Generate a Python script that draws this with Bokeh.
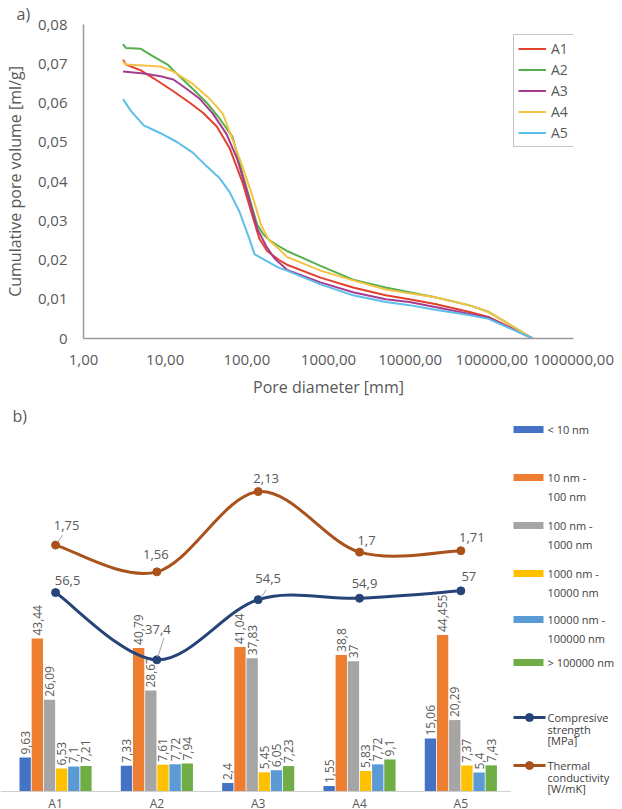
import math
from bokeh.plotting import figure
from bokeh.layouts import column, row
from bokeh.models import (Range1d, FixedTicker, Legend, LegendItem, Label, Title,
                          ColumnDataSource, CustomJSTickFormatter, Span)
from bokeh.transform import dodge
from bokeh.core.properties import value
from bokeh.embed import file_html
from bokeh.resources import INLINE

FONT = "Open Sans"
TXT = "#595959"

# ---------------- a) cumulative pore volume [ml/g] vs pore diameter ----------------
a1_d = [3.05, 3.31, 5.03, 7.22, 12.6, 20.2, 29, 42.9, 61.6, 88.5, 117, 142, 177, 248, 310,
        798, 2000, 5010, 9770, 20200, 52000, 90800, 318000]
a1_v = [0.071, 0.0698, 0.0683, 0.0663, 0.063, 0.060, 0.0575, 0.054, 0.0485, 0.0398, 0.0313,
        0.0255, 0.0223, 0.020, 0.0188, 0.0155, 0.013, 0.011, 0.010, 0.0088, 0.0068, 0.0055, 0.0]

a2_d = [3.05, 3.31, 5.03, 7.22, 10.7, 14.1, 22, 32.5, 46.6, 67, 88.5, 107, 134, 160, 190, 248,
        310, 798, 2000, 5010, 9770, 20200, 52000, 90800, 318000]
a2_v = [0.075, 0.074, 0.0738, 0.0718, 0.0698, 0.0673, 0.0635, 0.060, 0.056, 0.0513, 0.042,
        0.036, 0.029, 0.0265, 0.025, 0.0235, 0.0223, 0.0185, 0.015, 0.013, 0.0118, 0.0105,
        0.0085, 0.0068, 0.0]

a3_d = [3.05, 5.47, 8.77, 12.6, 18.6, 26.7, 38.4, 56.7, 77, 107, 134, 173, 216, 310, 798,
        2000, 5010, 9770, 20200, 52000, 90800, 318000]
a3_v = [0.068, 0.0675, 0.0668, 0.066, 0.0635, 0.061, 0.0573, 0.052, 0.0455, 0.0355, 0.028,
        0.0235, 0.0205, 0.0175, 0.0143, 0.0118, 0.010, 0.0093, 0.008, 0.0063, 0.0053, 0.0]

a4_d = [3.05, 3.31, 8.77, 12.6, 22, 35.3, 50.7, 66, 88.5, 117, 150, 188, 248, 310, 798, 2000,
        5010, 9770, 20200, 52000, 90800, 318000]
a4_v = [0.0705, 0.0698, 0.0693, 0.068, 0.0648, 0.061, 0.0573, 0.051, 0.0438, 0.0363, 0.0288,
        0.025, 0.0228, 0.0208, 0.0173, 0.0148, 0.0125, 0.0115, 0.0105, 0.0085, 0.0068, 0.0]

a5_d = [3.05, 3.8, 5.47, 8.77, 14.1, 22, 32.5, 46.6, 61.6, 81.3, 107, 124, 173, 248, 310, 798,
        2000, 5010, 9770, 20200, 52000, 90800, 318000]
a5_v = [0.061, 0.058, 0.0543, 0.0523, 0.050, 0.0473, 0.0438, 0.0408, 0.0373, 0.0323, 0.0255,
        0.0215, 0.0198, 0.018, 0.0173, 0.0138, 0.011, 0.0093, 0.0085, 0.0073, 0.006, 0.005, 0.0]

curve_names = ["A1", "A2", "A3", "A4", "A5"]
curve_colors = ["#e2412d", "#55b04b", "#a63c90", "#f4c244", "#5cbfe9"]
x_ticks = [1, 10, 100, 1000, 10000, 100000, 1000000]
y_ticks = [0, 0.01, 0.02, 0.03, 0.04, 0.05, 0.06, 0.07, 0.08]

# ---------------- b) pore size distribution, strength, conductivity ----------------
samples = ["A1", "A2", "A3", "A4", "A5"]
lt10 = [9.63, 7.33, 2.4, 1.55, 15.06]
r10_100 = [43.44, 40.79, 41.04, 38.8, 44.455]
r100_1000 = [26.09, 28.67, 37.83, 37, 20.29]
r1000_10000 = [6.53, 7.61, 5.45, 5.83, 7.37]
r10000_100000 = [7.1, 7.72, 6.05, 7.72, 5.4]
gt100000 = [7.21, 7.94, 7.23, 9.1, 7.43]
compressive = [56.5, 37.4, 54.5, 54.9, 57]
thermal = [1.75, 1.56, 2.13, 1.7, 1.71]

bar_names = ["< 10 nm", "10 nm -\n100 nm", "100 nm -\n1000 nm", "1000 nm -\n10000 nm",
             "10000 nm -\n100000 nm", "> 100000 nm"]
line_names = ["Compresive\nstrength\n[MPa]", "Thermal\nconductivity\n[W/mK]"]
bar_colors = ["#4472c4", "#ed7d31", "#a5a5a5", "#ffc000", "#5b9bd5", "#70ad47"]
NAVY = "#264478"
BROWN = "#a9521c"


def fmt(v):
    return f"{v:g}".replace(".", ",")


# ================= top figure =================
top = figure(width=622, height=400, x_axis_type="log", x_range=Range1d(1, 1e6),
             y_range=Range1d(0, 0.08), output_backend="svg", toolbar_location=None,
             min_border_left=77, min_border_right=49, min_border_top=22, min_border_bottom=58)
top.outline_line_color = None
top.grid.visible = False
top.background_fill_color = "white"

items = []
for name, d, v, c in zip(curve_names, [a1_d, a2_d, a3_d, a4_d, a5_d],
                         [a1_v, a2_v, a3_v, a4_v, a5_v], curve_colors):
    r = top.line(d, v, line_color=c, line_width=2)
    items.append(LegendItem(label=name, renderers=[r]))

for ax in (top.xaxis[0], top.yaxis[0]):
    ax.axis_line_color = "#9a9a9a"
    ax.axis_line_width = 1.5
    ax.major_tick_line_color = None
    ax.minor_tick_line_color = None
    ax.major_label_text_font = FONT
    ax.major_label_text_font_size = "15px"
    ax.major_label_text_color = TXT
    ax.axis_label_text_font = FONT
    ax.axis_label_text_font_size = "16px"
    ax.axis_label_text_font_style = "normal"
    ax.axis_label_text_color = TXT

top.xaxis.ticker = FixedTicker(ticks=x_ticks)
top.xaxis.formatter = CustomJSTickFormatter(code="return tick.toFixed(2).replace('.', ',');")
top.xaxis.axis_label = "Pore diameter [mm]"
top.xaxis.major_label_standoff = 10
top.xaxis.axis_label_standoff = 8
top.yaxis.ticker = FixedTicker(ticks=y_ticks)
top.yaxis.formatter = CustomJSTickFormatter(
    code="return tick === 0 ? '0' : tick.toFixed(2).replace('.', ',');")
top.yaxis.axis_label = "Cumulative pore volume [ml/g]"
top.yaxis.major_label_standoff = 10
top.yaxis.axis_label_standoff = 9

legend = Legend(items=items, location=(430, 191), margin=0, padding=4, spacing=2,
                glyph_width=28, glyph_height=19, label_height=19, label_width=24,
                label_standoff=5, label_text_font=FONT, label_text_font_size="14px",
                label_text_color=TXT, border_line_color="#8c8c8c", border_line_width=1.5,
                background_fill_color="white", background_fill_alpha=1)
top.add_layout(legend)

top.add_layout(Title(text="a)", align="left", offset=-67, standoff=0, text_font=FONT,
                     text_font_size="16px", text_font_style="normal", text_color=TXT),
               "above")

# ================= bottom figure =================
BW, BH = 511, 409
BASE = 18             # px from the figure bottom to the bar baseline
PPU = 3.52            # px per unit of the primary (bar) scale
RATIO = 40            # primary / thermal scale ratio
y_lo, y_hi = -BASE / PPU, (BH - BASE) / PPU
bot = figure(width=BW, height=BH, x_range=Range1d(0.4565, 5.5), y_range=Range1d(y_lo, y_hi),
             output_backend="svg", toolbar_location=None, x_axis_location=None,
             y_axis_location=None, min_border_left=0, min_border_right=0,
             min_border_top=0, min_border_bottom=0)
bot.extra_y_ranges = {"thermal": Range1d(y_lo / RATIO, y_hi / RATIO)}
bot.outline_line_color = None
bot.grid.visible = False

xs = list(range(1, len(samples) + 1))
series = [lt10, r10_100, r100_1000, r1000_10000, r10000_100000, gt100000]
data = dict(x=xs)
for j, s in enumerate(series):
    data[f"s{j}"] = s
    data[f"l{j}"] = [fmt(v) for v in s]
src = ColumnDataSource(data)

bot.add_layout(Span(location=0, dimension="width", line_color="#d0d0d0", line_width=1))

STEP = 0.12
for j, c in enumerate(bar_colors):
    off = (j - 2.5) * STEP
    bot.vbar(x=dodge("x", off, range=bot.x_range), top=f"s{j}", width=0.112, source=src,
             fill_color=c, line_color=None)
for j in range(len(series)):
    off = (j - 2.5) * STEP
    bot.text(x=dodge("x", off, range=bot.x_range), y=f"s{j}", text=f"l{j}", source=src,
             angle=math.pi / 2, text_align="left", text_baseline="middle", y_offset=-3,
             text_font=value(FONT), text_font_size="12px", text_color=TXT)


def bez(xv, yv):
    n = len(xv)
    out = dict(x0=[], y0=[], x1=[], y1=[], cx0=[], cy0=[], cx1=[], cy1=[])
    for i in range(n - 1):
        a, b = max(i - 1, 0), min(i + 2, n - 1)
        out["x0"].append(xv[i]); out["y0"].append(yv[i])
        out["x1"].append(xv[i + 1]); out["y1"].append(yv[i + 1])
        out["cx0"].append(xv[i] + (xv[i + 1] - xv[a]) / 6)
        out["cy0"].append(yv[i] + (yv[i + 1] - yv[a]) / 6)
        out["cx1"].append(xv[i + 1] - (xv[b] - xv[i]) / 6)
        out["cy1"].append(yv[i + 1] - (yv[b] - yv[i]) / 6)
    return ColumnDataSource(out)


# label callout offsets (px)
comp_dx = [12, 1, 10, 5, 8]
comp_dy = [-12, -30, -21, -15, -14]
therm_dx = [11, -1, 8, 7, 11]
therm_dy = [-20, -17, -13, -12, -13]

bot.bezier(x0="x0", y0="y0", x1="x1", y1="y1", cx0="cx0", cy0="cy0", cx1="cx1", cy1="cy1",
           source=bez(xs, thermal), line_color=BROWN, line_width=3, line_cap="round",
           y_range_name="thermal")
bot.scatter(xs, thermal, size=8, color=BROWN, y_range_name="thermal")
bot.bezier(x0="x0", y0="y0", x1="x1", y1="y1", cx0="cx0", cy0="cy0", cx1="cx1", cy1="cy1",
           source=bez(xs, compressive), line_color=NAVY, line_width=3, line_cap="round")
bot.scatter(xs, compressive, size=8, color=NAVY)

# small leader lines for some callouts
PPX = BW / (5.5 - 0.4565)
bot.segment(x0=[xs[1] + 1 / PPX], y0=[compressive[1] + 3 / PPU],
            x1=[xs[1] + 7 / PPX], y1=[compressive[1] + 22 / PPU],
            line_color="#a6a6a6", line_width=1)
bot.segment(x0=[xs[2] + 3 / PPX], y0=[compressive[2] + 2 / PPU],
            x1=[xs[2] + 8 / PPX], y1=[compressive[2] + 10 / PPU],
            line_color="#a6a6a6", line_width=1)
bot.segment(x0=[xs[0] + 2 / PPX], y0=[thermal[0] * RATIO + 3 / PPU],
            x1=[xs[0] + 7 / PPX], y1=[thermal[0] * RATIO + 10 / PPU],
            line_color="#a6a6a6", line_width=1)

csrc = ColumnDataSource(dict(x=xs, y=compressive, t=[fmt(v) for v in compressive],
                             dx=comp_dx, dy=comp_dy))
bot.text(x="x", y="y", text="t", x_offset="dx", y_offset="dy", source=csrc,
         text_align="center", text_baseline="middle", text_font=value(FONT),
         text_font_size="13px", text_color=TXT)
tsrc = ColumnDataSource(dict(x=xs, y=thermal, t=[fmt(v) for v in thermal],
                             dx=therm_dx, dy=therm_dy))
bot.text(x="x", y="y", text="t", x_offset="dx", y_offset="dy", source=tsrc,
         y_range_name="thermal", text_align="center", text_baseline="middle",
         text_font=value(FONT), text_font_size="13px", text_color=TXT)

# category labels just below the baseline
bot.text(x=xs, y=[0] * len(xs), text=samples, y_offset=3, text_align="center",
         text_baseline="top", text_font=value(FONT), text_font_size="12px",
         text_color=TXT)

bot.add_layout(Label(x=12, y=BH - 15, x_units="screen", y_units="screen", text="b)",
                     text_baseline="middle", text_font=FONT, text_font_size="16px",
                     text_color=TXT))

# ================= legend panel for b) =================
leg = figure(width=111, height=BH, x_range=Range1d(511, 622), y_range=Range1d(809, 400),
             output_backend="svg", toolbar_location=None, x_axis_location=None,
             y_axis_location=None, min_border_left=0, min_border_right=0,
             min_border_top=0, min_border_bottom=0)
leg.outline_line_color = None
leg.grid.visible = False

item_y = [429, 477, 525, 573, 619, 662, 717, 765]
leg.rect(x=[528] * 6, y=item_y[:6], width=30, height=7, fill_color=bar_colors, line_color=None)
line_cols = [NAVY, BROWN]
leg.segment(x0=[513] * 2, x1=[545] * 2, y0=item_y[6:], y1=item_y[6:], line_color=line_cols,
            line_width=3)
leg.scatter(x=[529] * 2, y=item_y[6:], size=8, color=line_cols)

tx, ty, tt = [], [], []
for i, nm in enumerate(bar_names + line_names):
    gap = 19 if i < 6 else 11.5
    for k, ln in enumerate(nm.split("\n")):
        tx.append(547)
        ty.append(item_y[i] + k * gap)
        tt.append(ln)
leg.text(x=tx, y=ty, text=tt, text_align="left", text_baseline="middle",
         text_font=value(FONT), text_font_size="11px", text_color="#404040")

layout = column(top, row(bot, leg, spacing=0), spacing=0)
open("out.html", "w").write(file_html(layout, INLINE))
